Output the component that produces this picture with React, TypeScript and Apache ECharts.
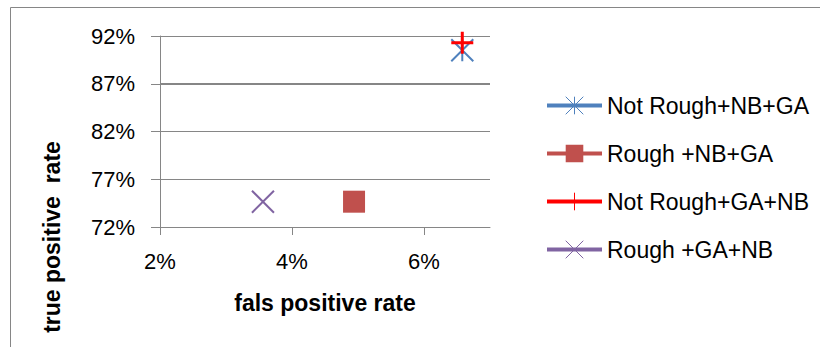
import React, { useEffect, useRef } from "react";
import * as echarts from "echarts";

// Classifier results: false positive rate vs. true positive rate (percent)
const seriesNames = [
  "Not Rough+NB+GA",
  "Rough +NB+GA",
  "Not Rough+GA+NB",
  "Rough +GA+NB",
];
const falsePositiveRate = [6.58, 4.94, 6.58, 3.56];
const truePositiveRate = [90.5, 74.65, 91.3, 74.65];

const xTicks = [2, 4, 6];
const yTicks = [72, 77, 82, 87, 92];

const FONT = "Liberation Sans";
const GRAY = "#868686";

const colors = ["#4F81BD", "#C0504D", "#FF0000", "#8064A2"];
const symbols = [
  "path://M0,0L10,10M10,0L0,10M5,0L5,10",
  "rect",
  "path://M0,5L10,5M5,0L5,10",
  "path://M0,0L10,10M10,0L0,10",
];
const strokeWidths = [2, 0, 3, 2];

export default function App() {
  const ref = useRef<HTMLDivElement>(null);

  useEffect(() => {
    if (!ref.current) return;
    const chart = echarts.init(ref.current, null, { renderer: "svg" });

    const series = seriesNames.map((name, i) => {
      const filled = symbols[i] === "rect";
      return {
        name,
        type: "line",
        data: [[falsePositiveRate[i], truePositiveRate[i]]],
        symbol: symbols[i],
        symbolSize: 22,
        showSymbol: true,
        lineStyle: { color: colors[i], width: 4 },
        itemStyle: filled
          ? { color: colors[i], borderWidth: 0 }
          : { color: "transparent", borderColor: colors[i], borderWidth: strokeWidths[i] },
        markLine:
          i === 0
            ? {
                silent: true,
                symbol: "none",
                label: { show: false },
                lineStyle: { color: GRAY, width: 2, type: "solid" },
                data: [{ yAxis: yTicks[3] }],
              }
            : undefined,
      };
    });

    chart.setOption({
      animation: false,
      backgroundColor: "#fff",
      grid: { left: 160, top: 36, width: 330, height: 191, containLabel: false },
      xAxis: {
        type: "value",
        min: 2,
        max: 7,
        name: "fals positive rate",
        nameLocation: "middle",
        nameGap: 64,
        nameTextStyle: { fontFamily: FONT, fontSize: 23, fontWeight: "bold", color: "#000" },
        axisLine: { show: true, onZero: false, lineStyle: { color: GRAY, width: 1 } },
        axisTick: { show: true, length: 8, customValues: xTicks, lineStyle: { color: GRAY } },
        axisLabel: {
          customValues: xTicks,
          formatter: (v: number) => `${v}%`,
          fontFamily: FONT,
          fontSize: 22,
          color: "#000",
          margin: 23,
        },
        splitLine: { show: false },
      },
      yAxis: {
        type: "value",
        min: 72,
        max: 92,
        axisLine: { show: true, lineStyle: { color: GRAY, width: 1 } },
        axisTick: { show: true, length: 9, customValues: yTicks, lineStyle: { color: GRAY } },
        axisLabel: {
          customValues: yTicks,
          formatter: (v: number) => `${v}%`,
          fontFamily: FONT,
          fontSize: 22,
          color: "#000",
          margin: 25,
        },
        splitLine: { show: true, lineStyle: { color: GRAY, width: 1 } },
      },
      legend: {
        orient: "vertical",
        left: 540,
        top: 89,
        itemWidth: 55,
        itemHeight: 22,
        itemGap: 25,
        lineStyle: { width: 4 },
        textStyle: { fontFamily: FONT, fontSize: 23, color: "#000", lineHeight: 22 },
        data: seriesNames.map((name, i) => ({
          name,
          itemStyle:
            symbols[i] === "rect"
              ? undefined
              : { borderWidth: 1 },
        })),
      },
      graphic: [
        {
          type: "polyline",
          silent: true,
          shape: { points: [[10.5, 347], [10.5, 7.5], [820, 7.5]] },
          style: { stroke: GRAY, lineWidth: 1, fill: "none" },
        },
        {
          type: "text",
          x: 52,
          y: 237,
          rotation: Math.PI / 2,
          style: {
            text: "true positive  rate",
            fontFamily: FONT,
            fontSize: 23,
            fontWeight: "bold",
            fill: "#000",
            align: "center",
            verticalAlign: "middle",
          },
        },
      ],
      series,
    });

    return () => chart.dispose();
  }, []);

  return (
    <div
      ref={ref}
      style={{ position: "fixed", left: 0, top: 0, width: 820, height: 347 }}
    />
  );
}
